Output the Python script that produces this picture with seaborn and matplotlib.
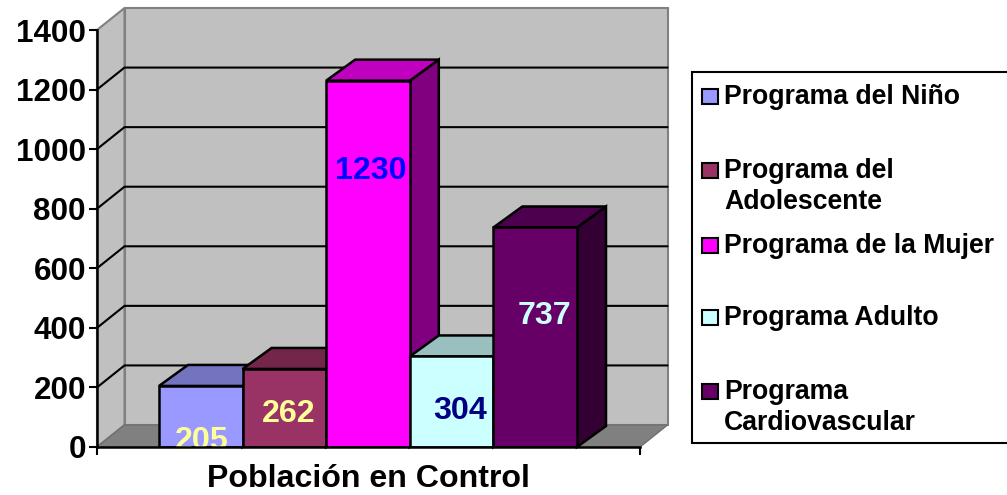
"""Poblacion en control por programa, columnas con efecto 3D."""

import matplotlib

matplotlib.use("Agg")

import matplotlib.pyplot as plt
import pandas as pd
import seaborn as sns
from matplotlib.patches import Polygon, Rectangle

PROGRAMS = [
    "Programa del Niño",
    "Programa del Adolescente",
    "Programa de la Mujer",
    "Programa Adulto",
    "Programa Cardiovascular",
]
POPULATION = [205, 262, 1230, 304, 737]
Y_TICKS = [0, 200, 400, 600, 800, 1000, 1200, 1400]
X_LABEL = "Población en Control"

LEGEND_LINES = [
    ["Programa del Niño"],
    ["Programa del", "Adolescente"],
    ["Programa de la Mujer"],
    ["Programa Adulto"],
    ["Programa", "Cardiovascular"],
]

FRONT = ["#9999FF", "#993366", "#FF00FF", "#CCFFFF", "#660066"]
TOP = ["#7373BF", "#732649", "#BF00BF", "#99BFBF", "#4D004D"]
SIDE = ["#4D4D80", "#4D1933", "#800080", "#668080", "#330033"]
LABEL_COLORS = ["#FFFF99", "#FFFF99", "#0000FF", "#000080", "#CCFFFF"]

# where the value labels sit, relative to bar centre / in axis units
LABEL_DX = [0.01, 0.05, 0.03, 0.10, 0.11]
LABEL_Y = [20, 110, 925, 122, 440]

# pixel layout of the plot area
W, H = 1007, 495
LEFT, RIGHT, TOP_PX, BOTTOM_PX = 97, 640, 30, 447
BAR_STEP = 83.6
Y_MAX = 1400
PX_PER_UNIT = (BOTTOM_PX - TOP_PX) / Y_MAX

WALL_DX, WALL_DY = 27.5 / BAR_STEP, 22 / PX_PER_UNIT
BAR_DX, BAR_DY = 29 / BAR_STEP, 21 / PX_PER_UNIT


def draw_walls(ax, x0, x1):
    wall = "#C0C0C0"
    edge = "#808080"
    ax.add_patch(Polygon(
        [(x0 + WALL_DX, WALL_DY), (x1 + WALL_DX, WALL_DY),
         (x1 + WALL_DX, Y_MAX + WALL_DY), (x0 + WALL_DX, Y_MAX + WALL_DY)],
        fc=wall, ec=edge, lw=1.5, zorder=0.5, clip_on=False))
    ax.add_patch(Polygon(
        [(x0, 0), (x0 + WALL_DX, WALL_DY),
         (x0 + WALL_DX, Y_MAX + WALL_DY), (x0, Y_MAX)],
        fc=wall, ec=edge, lw=1.5, zorder=0.5, clip_on=False))
    ax.add_patch(Polygon(
        [(x0, 0), (x1, 0), (x1 + WALL_DX, WALL_DY), (x0 + WALL_DX, WALL_DY)],
        fc=edge, ec="#707070", lw=1, zorder=0.6, clip_on=False))
    for tick in Y_TICKS[1:-1]:
        ax.plot([x0, x0 + WALL_DX, x1 + WALL_DX],
                [tick, tick + WALL_DY, tick + WALL_DY],
                color="black", lw=1.5, zorder=0.7, clip_on=False)


def draw_bar_depth(ax, bar, order):
    x0, x1 = bar.get_x(), bar.get_x() + bar.get_width()
    top = bar.get_height()
    z = 1 + order * 0.2
    bar.set_zorder(z + 0.1)
    ax.add_patch(Polygon(
        [(x1, 0), (x1 + BAR_DX, BAR_DY), (x1 + BAR_DX, top + BAR_DY), (x1, top)],
        fc=SIDE[order], ec="black", lw=1.8, zorder=z, clip_on=False))
    ax.add_patch(Polygon(
        [(x0, top), (x1, top), (x1 + BAR_DX, top + BAR_DY), (x0 + BAR_DX, top + BAR_DY)],
        fc=TOP[order], ec="black", lw=1.8, zorder=z, clip_on=False))


def draw_legend(fig):
    lax = fig.add_axes([0, 0, 1, 1], facecolor="none")
    lax.set_xlim(0, W)
    lax.set_ylim(H, 0)
    lax.axis("off")
    lax.add_patch(Rectangle((692, 72), 330, 371, fc="white", ec="black", lw=1.5))
    first_line_y = [97, 171, 246, 318, 392]
    line_gap = 31
    for lines, y, color in zip(LEGEND_LINES, first_line_y, FRONT):
        lax.add_patch(Rectangle((702, y - 8), 16, 15, fc=color, ec="black", lw=1.5))
        for i, line in enumerate(lines):
            lax.text(724, y + i * line_gap, line, fontsize=19.2, fontweight="bold",
                     va="center", ha="left", color="black")


def main():
    sns.set_theme(style="white")
    plt.rcParams["font.family"] = ["Liberation Sans", "DejaVu Sans"]

    df = pd.DataFrame({"programa": PROGRAMS, "poblacion": POPULATION})

    fig = plt.figure(figsize=(W / 100, H / 100), dpi=100, facecolor="white")
    ax = fig.add_axes([LEFT / W, 1 - BOTTOM_PX / H,
                       (RIGHT - LEFT) / W, (BOTTOM_PX - TOP_PX) / H])
    ax.patch.set_visible(False)

    sns.barplot(data=df, x="programa", y="poblacion", hue="programa",
                order=PROGRAMS, hue_order=PROGRAMS, palette=FRONT, saturation=1,
                width=1, edgecolor="black", linewidth=1.8, legend=False, ax=ax)

    first_centre = (159 + BAR_STEP / 2 - LEFT) / BAR_STEP
    x0 = -first_centre
    x1 = x0 + (RIGHT - LEFT) / BAR_STEP
    ax.set_xlim(x0, x1)
    ax.set_ylim(0, Y_MAX)

    draw_walls(ax, x0, x1)

    for order, container in enumerate(ax.containers):
        bar = container[0]
        draw_bar_depth(ax, bar, order)
        centre = bar.get_x() + bar.get_width() / 2
        ax.text(centre + LABEL_DX[order], LABEL_Y[order], str(POPULATION[order]),
                color=LABEL_COLORS[order], fontsize=23.2, fontweight="bold",
                ha="center", va="center", zorder=2.4, clip_on=False)

    ax.set_yticks(Y_TICKS)
    ax.set_xticks([x0, x1])
    ax.set_xticklabels(["", ""])
    ax.set_ylabel("")
    ax.set_xlabel(X_LABEL, fontsize=23.1, fontweight="bold", color="black", labelpad=3)
    ax.tick_params(axis="both", which="major", length=6, width=1.5, color="black",
                   direction="out", bottom=True, left=True)
    ax.tick_params(axis="y", labelsize=22.6, labelcolor="black", pad=2)
    for label in ax.get_yticklabels():
        label.set_fontweight("bold")

    sns.despine(ax=ax)
    for side in ("left", "bottom"):
        ax.spines[side].set_color("black")
        ax.spines[side].set_linewidth(1.8)

    draw_legend(fig)
    fig.savefig("out.png", dpi=100)
    plt.close(fig)


if __name__ == "__main__":
    main()
